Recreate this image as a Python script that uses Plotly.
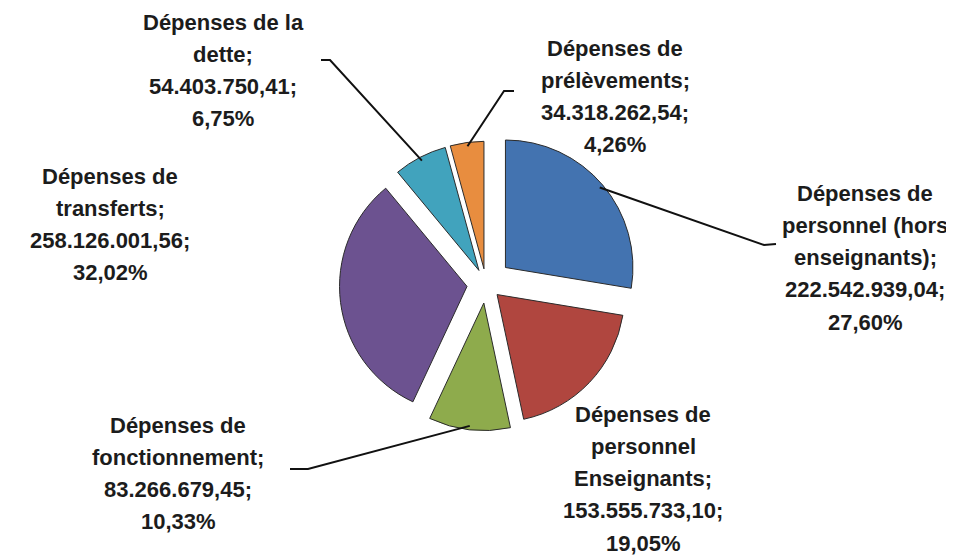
import math
import plotly.graph_objects as go

# ---- data ----
categories = [
    "Dépenses de personnel (hors enseignants)",
    "Dépenses de personnel Enseignants",
    "Dépenses de fonctionnement",
    "Dépenses de transferts",
    "Dépenses de la dette",
    "Dépenses de prélèvements",
]
values = [222542939.04, 153555733.10, 83266679.45, 258126001.56, 54403750.41, 34318262.54]
name_lines = [
    ["Dépenses de", "personnel (hors", "enseignants);"],
    ["Dépenses de", "personnel", "Enseignants;"],
    ["Dépenses de", "fonctionnement;"],
    ["Dépenses de", "transferts;"],
    ["Dépenses de la", "dette;"],
    ["Dépenses de", "prélèvements;"],
]

# ---- styles ----
colors = ["#4373b0", "#b0463f", "#8eab4c", "#6c5290", "#41a3bd", "#e88d3f"]
pulls = [0.2, 0.12, 0.15, 0.15, 0.12, 0.12]
W, H = 954, 557
CX, CY, D = 478, 276, 306
label_pos = [(857, 185), (635, 406), (170, 417), (102, 168), (215, 14), (607, 40)]
line_gap = 32.3
FONT = "Liberation Sans"


def fr(v):
    s = f"{v:,.2f}"
    return s.replace(",", "X").replace(".", ",").replace("X", ".")


total = sum(values)

fig = go.Figure(go.Pie(
    labels=categories,
    values=values,
    sort=False,
    direction="clockwise",
    rotation=0,
    pull=pulls,
    marker=dict(colors=colors, line=dict(color="#2b2b2b", width=1)),
    textinfo="none",
    hoverinfo="label+value+percent",
    showlegend=False,
    domain=dict(x=[(CX - D / 2) / W, (CX + D / 2) / W],
                y=[1 - (CY + D / 2) / H, 1 - (CY - D / 2) / H]),
))

annotations = []
for i, (nl, v) in enumerate(zip(name_lines, values)):
    pct = f"{v / total * 100:.2f}".replace(".", ",") + "%"
    lines = nl + [fr(v) + ";", pct]
    x0, y0 = label_pos[i]
    for k, t in enumerate(lines):
        annotations.append(dict(
            x=x0 / W, y=1 - (y0 + k * line_gap) / H, xref="paper", yref="paper",
            text=f"<b>{t}</b>", showarrow=False, xanchor="center", yanchor="middle",
            font=dict(family=FONT, size=22, color="#1c1c1c"),
        ))

# leader lines: from label to a point on the slice rim (computed from the data)
r = D / 2 / (1 + max(pulls))
cum = 0
slice_pts = []
for v, p in zip(values, pulls):
    f = v / total
    mid = (cum + f / 2) * 2 * math.pi
    cum += f
    rr = r * (0.97 + p)
    slice_pts.append((CX + rr * math.sin(mid), CY - rr * math.cos(mid)))

leader_starts = {
    0: [(768, 236), (756, 237)],
    2: [(282, 461), (300, 461)],
    4: [(313, 52), (322, 52)],
    5: [(506, 83), (496, 83)],
}
shapes = []
for i, pts in leader_starts.items():
    allp = pts + [slice_pts[i]]
    path = "M " + " L ".join(f"{x / W},{1 - y / H}" for x, y in allp)
    shapes.append(dict(type="path", xref="paper", yref="paper", path=path,
                       line=dict(color="#111111", width=2)))

fig.update_layout(
    width=W, height=H,
    margin=dict(l=0, r=0, t=0, b=0),
    paper_bgcolor="white", plot_bgcolor="white",
    annotations=annotations, shapes=shapes,
)
fig.write_html("out.html")
